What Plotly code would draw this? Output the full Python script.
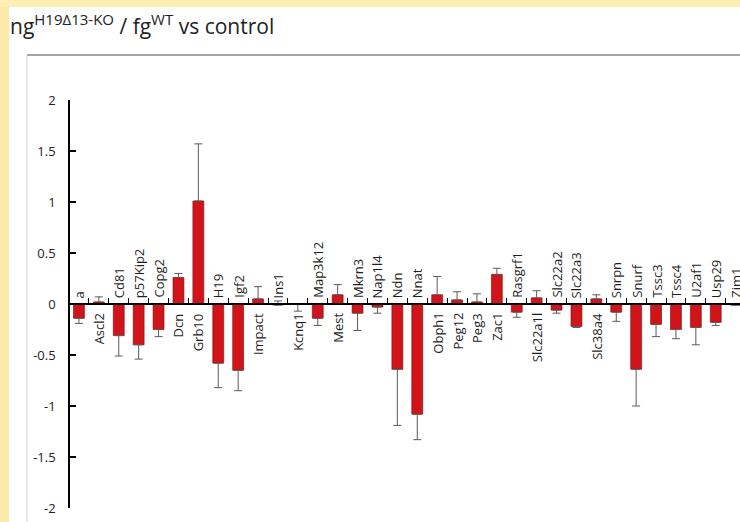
import plotly.graph_objects as go

genes = ["a", "Ascl2", "Cd81", "p57Kip2", "Copg2", "Dcn", "Grb10", "H19", "Igf2",
         "Impact", "Ins1", "Kcnq1", "Map3k12", "Mest", "Mkrn3", "Nap1l4", "Ndn",
         "Nnat", "Obph1", "Peg12", "Peg3", "Zac1", "Rasgrf1", "Slc22a1l", "Slc22a2",
         "Slc22a3", "Slc38a4", "Snrpn", "Snurf", "Tssc3", "Tssc4", "U2af1", "Usp29", "Zim1"]
values = [-0.14, 0.02, -0.31, -0.40, -0.25, 0.26, 1.01, -0.58, -0.65,
          0.05, -0.01, 0.0, -0.14, 0.09, -0.09, -0.03, -0.64,
          -1.08, 0.09, 0.04, 0.02, 0.29, -0.08, 0.06, -0.06,
          -0.22, 0.05, -0.08, -0.64, -0.20, -0.25, -0.23, -0.18, -0.01]
err_up = [0, 0.05, 0, 0, 0, 0.04, 0.56, 0, 0,
          0.12, 0.04, 0, 0, 0.10, 0, 0, 0,
          0, 0.18, 0.08, 0.08, 0.06, 0, 0.07, 0,
          0, 0.04, 0, 0, 0, 0, 0, 0, 0]
err_down = [0.05, 0, 0.20, 0.14, 0.07, 0, 0, 0.24, 0.20,
            0, 0, 0.07, 0.07, 0, 0.17, 0.06, 0.55,
            0.25, 0, 0, 0, 0, 0.05, 0, 0.03,
            0.01, 0, 0.09, 0.36, 0.12, 0.09, 0.17, 0.03, 0]
y_tickvals = [2, 1.5, 1, 0.5, 0, -0.5, -1, -1.5, -2]
y_ticktext = ["2", "1.5", "1", "0.5", "0", "-0.5", "-1", "-1.5", "-2"]
title_main = "ng"
title_sup1 = "H19\u039413-KO"
title_mid = " / fg"
title_sup2 = "WT"
title_end = " vs control"

W, H = 740, 522
L, R, T, B = 69, 0, 100, 14
PW, PH = W - L - R, H - T - B
step = 19.9


def px_x(p):
    return (p - L) / PW


def px_y(p):
    return 1 + (T - p) / PH


fig = go.Figure()
fig.add_trace(go.Bar(
    x=genes, y=values, width=0.55,
    marker=dict(color="#d0141a", line=dict(color="#7a0a0a", width=0.6)),
    error_y=dict(type="data", symmetric=False, array=err_up, arrayminus=err_down,
                 color="#5a5a5a", thickness=1, width=4),
))

annotations = []
for g, v in zip(genes, values):
    above = v < 0
    annotations.append(dict(
        x=g, y=0, xref="x", yref="y", text=g, showarrow=False, textangle=-90,
        yanchor="bottom" if above else "top", xanchor="center",
        yshift=4 if above else -7,
        font=dict(family="Open Sans", size=13, color="#1e1e1e"),
    ))

sup_style = "<sup><span style='font-size:15px'>%s</span></sup>"
title_text = title_main + sup_style % title_sup1 + title_mid + sup_style % title_sup2 + title_end
annotations.append(dict(
    x=px_x(8), y=px_y(7), xref="paper", yref="paper", text=title_text,
    showarrow=False, xanchor="left", yanchor="top",
    font=dict(family="Open Sans", size=21, color="#222222"),
))

shapes = [
    dict(type="rect", xref="paper", yref="paper", x0=px_x(0), x1=px_x(9),
         y0=px_y(H), y1=px_y(0), fillcolor="#fce9a8", line=dict(width=0), layer="below"),
    dict(type="rect", xref="paper", yref="paper", x0=px_x(0), x1=px_x(W),
         y0=px_y(7), y1=px_y(0), fillcolor="#fdeeb4", line=dict(width=0), layer="below"),
    dict(type="line", xref="paper", yref="paper", x0=px_x(27), x1=px_x(W),
         y0=px_y(55), y1=px_y(55), line=dict(color="#a4a4a4", width=2), layer="below"),
    dict(type="line", xref="paper", yref="paper", x0=px_x(27), x1=px_x(27),
         y0=px_y(55), y1=px_y(H), line=dict(color="#d4d4d4", width=1), layer="below"),
]

fig.update_layout(
    width=W, height=H,
    margin=dict(l=L, r=R, t=T, b=B),
    paper_bgcolor="white", plot_bgcolor="rgba(0,0,0,0)",
    showlegend=False,
    annotations=annotations,
    shapes=shapes,
    xaxis=dict(
        type="category", range=[-0.5, -0.5 + PW / step],
        anchor="free", position=0.5,
        showline=True, linecolor="black", linewidth=1.5,
        ticks="inside", ticklen=5, tickcolor="black", tickwidth=1.2,
        tickson="boundaries", showticklabels=False, showgrid=False, zeroline=False,
    ),
    yaxis=dict(
        range=[-2, 2], tickmode="array", tickvals=y_tickvals, ticktext=y_ticktext,
        anchor="free", position=0,
        showline=True, linecolor="black", linewidth=1.5,
        ticks="inside", ticklen=6, tickcolor="black", tickwidth=1.5,
        ticklabelstandoff=10,
        tickfont=dict(family="Open Sans", size=13, color="#222222"),
        showgrid=False, zeroline=False,
    ),
)

fig.write_html("out.html", config={"displayModeBar": False},
               post_script="document.body.style.margin='0';")
